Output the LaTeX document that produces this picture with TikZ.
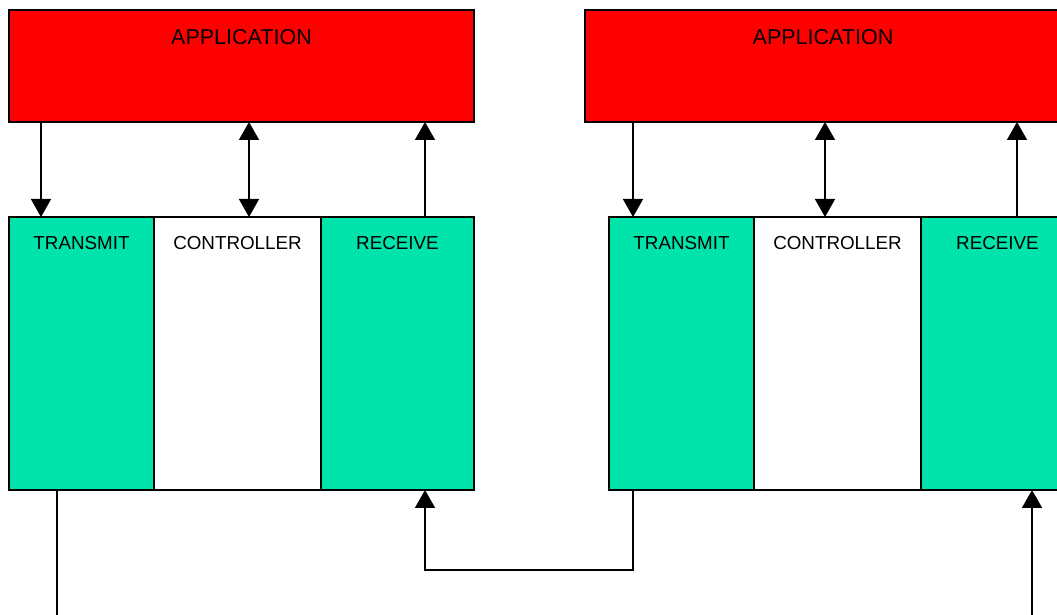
\documentclass[tikz,border=0pt]{standalone}
\usepackage{fontspec}
\setmainfont{Liberation Sans}
\usetikzlibrary{arrows.meta,positioning}
\definecolor{appred}{HTML}{FF0000}
\definecolor{unitgreen}{HTML}{00E3AA}
\newcommand{\AppHeight}{112pt}
\newcommand{\UnitHeight}{273pt}

\begin{document}
\begin{tikzpicture}[x=1pt,y=1pt,
    appbox/.style={draw,line width=1.6pt,fill=appred,minimum height=\AppHeight,anchor=north west,inner sep=0pt,outer sep=0pt},
    unitbox/.style={draw,line width=1.6pt,minimum height=\UnitHeight,anchor=north west,inner sep=0pt,outer sep=0pt},
    applbl/.style={font=\fontsize{21.5}{25}\selectfont,anchor=base,inner sep=0pt},
    unitlbl/.style={font=\fontsize{18.8}{22}\selectfont,anchor=base,inner sep=0pt},
    sig/.style={line width=1.6pt,-{Triangle[length=18pt,width=20pt]}},
    sigboth/.style={line width=1.6pt,{Triangle[length=18pt,width=20pt]}-{Triangle[length=18pt,width=20pt]}}]
		\useasboundingbox (0,0) rectangle (1057,615);
		\clip (0,0) rectangle (1057,615);

		% left station
		\node[appbox,minimum width=465pt] (appL) at (9,605) {};
		\node[unitbox,fill=unitgreen,minimum width=145pt] (txL) at (9,398) {};
		\node[unitbox,fill=white,minimum width=167pt,right=0pt of txL] (ctL) {};
		\node[unitbox,fill=unitgreen,minimum width=153pt,right=0pt of ctL] (rxL) {};
		\node[applbl] (appLtxt) at ([yshift=-35pt]appL.north) {APPLICATION};
		\node[unitlbl] (txLtxt) at ([yshift=-33pt]txL.north) {TRANSMIT};
		\node[unitlbl] (ctLtxt) at ([yshift=-33pt]ctL.north) {CONTROLLER};
		\node[unitlbl] (rxLtxt) at ([yshift=-33pt]rxL.north) {RECEIVE};

		% right station
		\node[appbox,minimum width=480pt] (appR) at (585,605) {};
		\node[unitbox,fill=unitgreen,minimum width=145pt] (txR) at (609,398) {};
		\node[unitbox,fill=white,minimum width=167pt,right=0pt of txR] (ctR) {};
		\node[unitbox,fill=unitgreen,minimum width=153pt,right=0pt of ctR] (rxR) {};
		\node[applbl] (appRtxt) at ([xshift=-2pt,yshift=-35pt]appR.north) {APPLICATION};
		\node[unitlbl] (txRtxt) at ([yshift=-33pt]txR.north) {TRANSMIT};
		\node[unitlbl] (ctRtxt) at ([yshift=-33pt]ctR.north) {CONTROLLER};
		\node[unitlbl] (rxRtxt) at ([yshift=-33pt]rxR.north) {RECEIVE};

		\coordinate (txLt) at ([xshift=32pt]txL.north west);
		\coordinate (ctLt) at ([xshift=95pt]ctL.north west);
		\coordinate (rxLt) at ([xshift=104pt]rxL.north west);
		\coordinate (txRt) at ([xshift=24pt]txR.north west);
		\coordinate (ctRt) at ([xshift=71pt]ctR.north west);
		\coordinate (rxRt) at ([xshift=96pt]rxR.north west);

		\coordinate (txLb) at ([xshift=48pt]txL.south west);
		\coordinate (rxLb) at ([xshift=104pt]rxL.south west);
		\coordinate (txRb) at ([xshift=24pt]txR.south west);
		\coordinate (rxRb) at ([xshift=111pt]rxR.south west);
		\coordinate (outL) at (txLb |- 0,-5);
		\coordinate (inR) at (rxRb |- 0,-5);

		\draw[sig] (txLt |- appL.south) -- (txLt);% to transmit
		\draw[sigboth] (ctLt |- appL.south) -- (ctLt);% controller
		\draw[sig] (rxLt) -- (rxLt |- appL.south);% from receive
		\draw[sig] (txRt |- appR.south) -- (txRt);% to transmit
		\draw[sigboth] (ctRt |- appR.south) -- (ctRt);% controller
		\draw[sig] (rxRt) -- (rxRt |- appR.south);% from receive

		\draw[line width=1.6pt] (txLb) -- (outL);% line out
		\draw[sig] (txRb) -- ++(0,-80) -| (rxLb);% right to left link
		\draw[sig] (inR) -- (rxRb);% line in
	\end{tikzpicture}
\end{document}
